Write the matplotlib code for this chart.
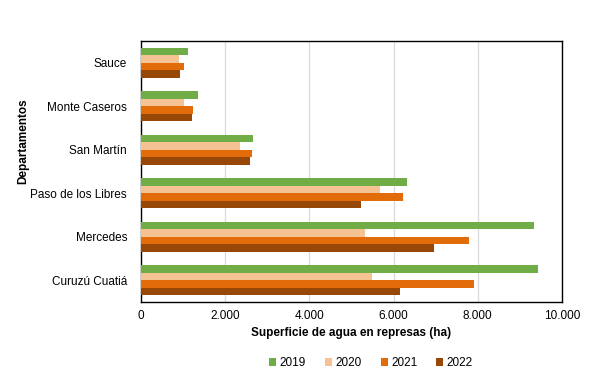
import numpy as np
import matplotlib
matplotlib.use("Agg")
import matplotlib.pyplot as plt

plt.rcParams['font.family'] = ['Liberation Sans', 'DejaVu Sans']

departamentos = ["Curuzú Cuatiá", "Mercedes", "Paso de los Libres", "San Martín", "Monte Caseros", "Sauce"]
years = ["2019", "2020", "2021", "2022"]
v2019 = [9430, 9335, 6318, 2660, 1354, 1109]
v2020 = [5487, 5321, 5677, 2352, 1021, 903]
v2021 = [7910, 7791, 6223, 2637, 1228, 1021]
v2022 = [6152, 6960, 5226, 2590, 1212, 927]
colors = ["#70AD47", "#F5C293", "#E36C0A", "#974806"]

fig = plt.figure(figsize=(6.04, 3.79), dpi=100)
ax = fig.add_axes([141 / 604, 1 - 302 / 379, 421 / 604, 261 / 379])

y = np.arange(len(departamentos))
h = 0.17
series = [v2019, v2020, v2021, v2022]
for i, (vals, c, yr) in enumerate(zip(series, colors, years)):
    # 2019 on top of each group, 2022 at the bottom
    ax.barh(y + (1.5 - i) * h, vals, height=h, color=c, label=yr, zorder=3)

ax.set_xlim(0, 10000)
ax.set_ylim(-0.5, len(departamentos) - 0.5)
ax.set_xticks(range(0, 10001, 2000))
ax.set_xticklabels([f"{v:,}".replace(",", ".") for v in range(0, 10001, 2000)], fontsize=8.5)
ax.set_yticks(y)
ax.set_yticklabels(departamentos, fontsize=8.5)
ax.tick_params(axis='both', length=0)
ax.tick_params(axis='y', pad=10)
ax.tick_params(axis='x', pad=6)
ax.grid(axis='x', color='#D9D9D9', linewidth=0.9, zorder=0)
for s in ax.spines.values():
    s.set_color('black')
    s.set_linewidth(1.0)

fig.text(351 / 604, 1 - 333 / 379, "Superficie de agua en represas (ha)", ha='center', va='center',
         fontsize=8.5, fontweight='bold')
fig.text(23 / 604, 1 - 141 / 379, "Departamentos", ha='center', va='center', rotation=90,
         fontsize=8.5, fontweight='bold')

leg = fig.legend(loc='center', bbox_to_anchor=(371 / 604, 1 - 363 / 379), ncol=4, frameon=False,
                 fontsize=8.5, handlelength=0.6, handleheight=0.6, handletextpad=0.3, columnspacing=1.6)

fig.savefig("out.png", dpi=100)
